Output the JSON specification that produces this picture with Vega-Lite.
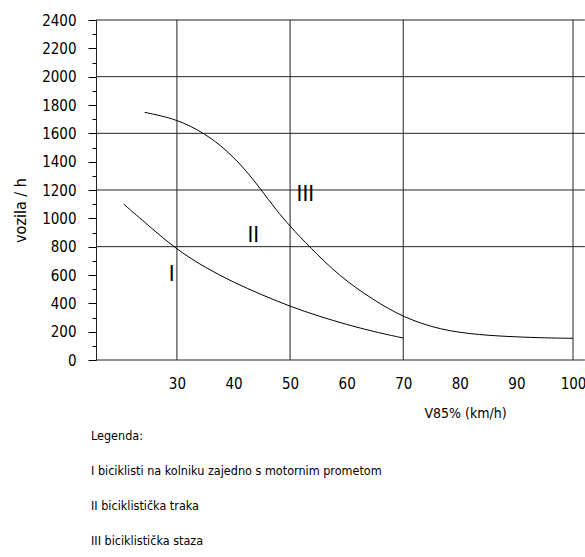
{
  "$schema": "https://vega.github.io/schema/vega-lite/v6.json",
  "width": 477,
  "height": 340,
  "autosize": {"type": "none"},
  "padding": {"left": 96, "top": 20, "right": 12, "bottom": 197},
  "background": "white",
  "config": {
    "font": "Liberation Sans Narrow, Arial Narrow, DejaVu Sans Condensed, Liberation Sans, sans-serif",
    "view": {"stroke": null},
    "axis": {
      "labelFont": "Liberation Sans Narrow, Arial Narrow, DejaVu Sans Condensed, Liberation Sans, sans-serif",
      "labelFontSize": 15,
      "labelColor": "black",
      "titleFont": "Liberation Sans Narrow, Arial Narrow, DejaVu Sans Condensed, Liberation Sans, sans-serif",
      "titleFontSize": 16,
      "titleFontWeight": "normal",
      "titleColor": "black",
      "domainColor": "#222",
      "tickColor": "#222"
    }
  },
  "title": {
    "text": [
      "Legenda:",
      "I  biciklisti na kolniku zajedno s motornim prometom",
      "II  biciklistička traka",
      "III  biciklistička staza"
    ],
    "orient": "bottom",
    "anchor": "start",
    "frame": "group",
    "font": "Liberation Sans Narrow, Arial Narrow, DejaVu Sans Condensed, Liberation Sans, sans-serif",
    "fontSize": 12.5,
    "fontWeight": "normal",
    "color": "black",
    "lineHeight": 35,
    "offset": 10,
    "dx": -5,
    "baseline": "top"
  },
  "datasets": {
    "curves": [
      {"series": "I", "x": 20.6, "y": 1100},
      {"series": "I", "x": 25, "y": 948},
      {"series": "I", "x": 30, "y": 778},
      {"series": "I", "x": 35, "y": 652},
      {"series": "I", "x": 40, "y": 548},
      {"series": "I", "x": 45, "y": 460},
      {"series": "I", "x": 50, "y": 378},
      {"series": "I", "x": 55, "y": 310},
      {"series": "I", "x": 60, "y": 250},
      {"series": "I", "x": 65, "y": 198},
      {"series": "I", "x": 70, "y": 155},
      {"series": "III", "x": 24.3, "y": 1748},
      {"series": "III", "x": 30, "y": 1701},
      {"series": "III", "x": 35, "y": 1598},
      {"series": "III", "x": 38.7, "y": 1484},
      {"series": "III", "x": 42.2, "y": 1340},
      {"series": "III", "x": 44.9, "y": 1200},
      {"series": "III", "x": 47.5, "y": 1062},
      {"series": "III", "x": 50, "y": 943},
      {"series": "III", "x": 53.4, "y": 800},
      {"series": "III", "x": 58.8, "y": 588},
      {"series": "III", "x": 64.7, "y": 424},
      {"series": "III", "x": 70, "y": 301},
      {"series": "III", "x": 76.5, "y": 212},
      {"series": "III", "x": 83.6, "y": 176},
      {"series": "III", "x": 90, "y": 163},
      {"series": "III", "x": 95, "y": 156},
      {"series": "III", "x": 100, "y": 153}
    ],
    "vgrid": [{"x": 30}, {"x": 50}, {"x": 70}, {"x": 100}],
    "hgrid": [{"y": 0}, {"y": 800}, {"y": 1200}, {"y": 1600}, {"y": 2000}, {"y": 2400}],
    "labels": [
      {"x": 29.06, "y": 607, "text": "I"},
      {"x": 43.5, "y": 882, "text": "II"},
      {"x": 52.7, "y": 1172, "text": "III"}
    ]
  },
  "layer": [
    {
      "data": {"name": "hgrid"},
      "mark": {"type": "rule", "color": "#222", "strokeWidth": 1},
      "encoding": {
        "y": {
          "field": "y",
          "type": "quantitative",
          "scale": {"domain": [0, 2400], "nice": false},
          "axis": {
            "tickCount": 24,
            "format": "d",
            "labelExpr": "datum.value % 200 == 0 ? datum.label : ''",
            "labelOverlap": false,
            "labelSeparation": 0,
            "labelBound": false,
            "title": "vozila / h",
            "grid": false,
            "domain": true,
            "ticks": true,
            "tickSize": {"condition": {"test": "datum.value % 200 == 0", "value": 8}, "value": 4},
            "tickWidth": 1,
            "tickOpacity": 1,
            "tickColor": "black",
            "labelPadding": 12,
            "labelFlush": false,
            "titleAngle": -90,
            "titleX": -76,
            "titleY": 190,
            "titleAlign": "center",
            "titleBaseline": "middle"
          }
        },
        "x": {
          "datum": 15.7,
          "type": "quantitative",
          "scale": {"domain": [15.7, 100], "nice": false, "zero": false},
          "axis": {
            "values": [30, 40, 50, 60, 70, 80, 90, 100],
            "title": "V85% (km/h)",
            "domain": false,
            "ticks": false,
            "grid": false,
            "labelPadding": 16,
            "labelFlush": false,
            "labelOverlap": false,
            "titleX": 369,
            "titleY": 53,
            "titleBaseline": "middle",
            "titleAlign": "center",
            "titleFontSize": 14
          }
        },
        "x2": {"datum": 102.1}
      }
    },
    {
      "data": {"name": "vgrid"},
      "mark": {"type": "rule", "color": "#222", "strokeWidth": 1},
      "encoding": {
        "x": {"field": "x", "type": "quantitative"},
        "y": {"datum": 0},
        "y2": {"datum": 2400}
      }
    },
    {
      "data": {"name": "curves"},
      "mark": {"type": "line", "color": "black", "strokeWidth": 1, "interpolate": "basis"},
      "encoding": {
        "x": {"field": "x", "type": "quantitative"},
        "y": {"field": "y", "type": "quantitative"},
        "detail": {"field": "series"}
      }
    },
    {
      "data": {"name": "labels"},
      "mark": {"type": "text", "fontSize": 22, "font": "Liberation Sans Narrow, Arial Narrow, DejaVu Sans Condensed, Liberation Sans, sans-serif", "color": "black", "baseline": "middle", "align": "center"},
      "encoding": {
        "x": {"field": "x", "type": "quantitative"},
        "y": {"field": "y", "type": "quantitative"},
        "text": {"field": "text"}
      }
    }
  ]
}
